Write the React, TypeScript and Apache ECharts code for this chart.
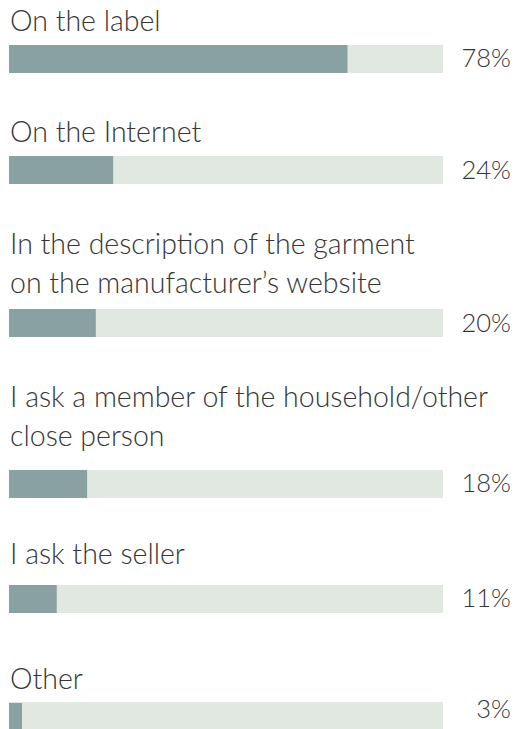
import { useEffect, useRef } from "react";
import * as echarts from "echarts";

// Where people look for garment care information (share of respondents, %)
const categories = [
  "On the label",
  "On the Internet",
  "In the description of the garment\non the manufacturer’s website",
  "I ask a member of the household/other\nclose person",
  "I ask the seller",
  "Other",
];
const shares = [78, 24, 20, 18, 11, 3];
const axisMax = 100;

// Row layout (px): top edge of each bar, baseline of each label's first line,
// and vertical nudge of the value text relative to its bar's middle
const rowBarTop = [45, 156, 309, 470, 585, 703];
const rowLabelBaseline = [30.7, 141.7, 253.3, 406.7, 563.3, 688.3];
const rowValueNudge = [-2, -1, -1, -2, -2, -9];

const FONT = "Lato, 'Open Sans', sans-serif";
const TEXT_COLOR = "#363636";
const FILL = "#8aa1a1";
const TRACK = "#e1e8e1";
const BAR_H = 28;
const LEFT = 9;
const TRACK_W = 434;
const VALUE_RIGHT = 511;
const LABEL_SIZE = 28.5;
const VALUE_SIZE = 25.5;
const LINE_H = 38.5;

export default function App() {
  const ref = useRef<HTMLDivElement>(null);

  useEffect(() => {
    if (!ref.current) return;
    const chart = echarts.init(ref.current, undefined, { renderer: "svg" });

    const grids = categories.map((_, i) => ({
      left: LEFT,
      top: rowBarTop[i],
      width: TRACK_W,
      height: BAR_H,
      containLabel: false,
    }));
    const xAxes = categories.map((_, i) => ({
      type: "value" as const,
      gridIndex: i,
      min: 0,
      max: axisMax,
      show: false,
    }));
    const yAxes = categories.map((c, i) => ({
      type: "category" as const,
      gridIndex: i,
      data: [c],
      show: false,
    }));
    const series = categories.map((c, i) => ({
      type: "bar" as const,
      name: c,
      xAxisIndex: i,
      yAxisIndex: i,
      data: [shares[i]],
      barWidth: BAR_H,
      showBackground: true,
      backgroundStyle: { color: TRACK },
      itemStyle: { color: FILL },
      label: {
        show: true,
        position: [VALUE_RIGHT - LEFT, BAR_H / 2 + rowValueNudge[i]],
        align: "right",
        verticalAlign: "middle",
        formatter: "{c}%",
        fontFamily: FONT,
        fontWeight: 300,
        fontSize: VALUE_SIZE,
        lineHeight: 22,
        color: TEXT_COLOR,
      },
      silent: true,
    }));

    const graphic = categories.map((c, i) => ({
      type: "text" as const,
      left: LEFT + 1,
      top: rowLabelBaseline[i] - 0.36 * LABEL_SIZE - LINE_H / 2,
      style: {
        text: c,
        font: `300 ${LABEL_SIZE}px ${FONT}`,
        fill: TEXT_COLOR,
        lineHeight: LINE_H,
      },
      silent: true,
    }));

    chart.setOption({
      animation: false,
      grid: grids,
      xAxis: xAxes,
      yAxis: yAxes,
      series,
      graphic,
    });

    return () => chart.dispose();
  }, []);

  return (
    <div
      ref={ref}
      style={{ position: "fixed", left: 0, top: 0, width: 515, height: 729, background: "#fff" }}
    />
  );
}
